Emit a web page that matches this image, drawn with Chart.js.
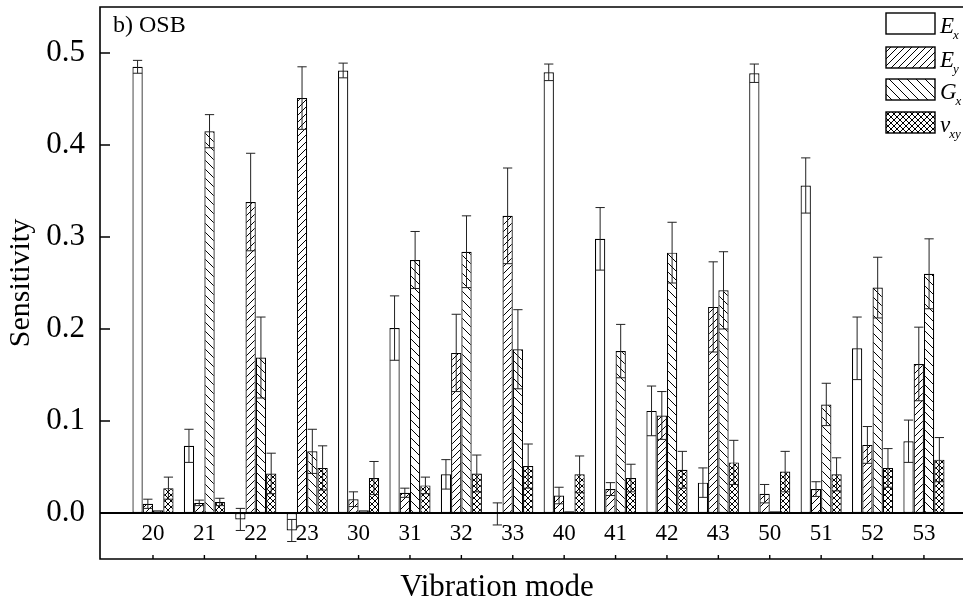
<!DOCTYPE html>
<html>
<head>
<meta charset="utf-8">
<title>Sensitivity by vibration mode</title>
<script src="https://cdn.jsdelivr.net/npm/chart.js@4/dist/chart.umd.min.js"></script>
<style>
  html, body { margin: 0; padding: 0; background: #fff; }
  #wrap { width: 963px; height: 605px; position: relative; }
</style>
</head>
<body>
<div id="wrap"><canvas id="chart" width="963" height="605"></canvas></div>
<script>
// Vibration modes on the horizontal axis
const categories = ['20', '21', '22', '23', '30', '31', '32', '33', '40', '41', '42', '43', '50', '51', '52', '53'];

// Sensitivity of each elastic constant (mean) and its error-bar half width
const exVals  = [0.485, 0.073, -0.007, -0.019, 0.481, 0.201, 0.042, -0.001, 0.479, 0.298, 0.111, 0.033, 0.478, 0.356, 0.179, 0.078];
const exErr   = [0.007, 0.018, 0.012, 0.012, 0.008, 0.035, 0.016, 0.012, 0.009, 0.034, 0.027, 0.016, 0.010, 0.030, 0.034, 0.023];
const eyVals  = [0.010, 0.011, 0.338, 0.451, 0.015, 0.022, 0.174, 0.323, 0.019, 0.026, 0.106, 0.224, 0.021, 0.026, 0.074, 0.162];
const eyErr   = [0.005, 0.003, 0.053, 0.034, 0.008, 0.005, 0.042, 0.052, 0.009, 0.007, 0.026, 0.049, 0.010, 0.008, 0.020, 0.040];
const gxVals  = [0.003, 0.415, 0.169, 0.067, 0.003, 0.275, 0.284, 0.178, 0.002, 0.176, 0.283, 0.242, 0.002, 0.118, 0.245, 0.260];
const gxErr   = [0.000, 0.018, 0.044, 0.024, 0.000, 0.031, 0.039, 0.043, 0.000, 0.029, 0.033, 0.042, 0.000, 0.023, 0.033, 0.038];
const vxyVals = [0.027, 0.012, 0.043, 0.049, 0.038, 0.030, 0.043, 0.051, 0.042, 0.038, 0.047, 0.055, 0.045, 0.042, 0.049, 0.058];
const vxyErr  = [0.012, 0.004, 0.022, 0.024, 0.018, 0.009, 0.020, 0.024, 0.020, 0.015, 0.020, 0.024, 0.022, 0.018, 0.021, 0.024];

// Legend entries: main symbol and subscript
const seriesSymbols = ['E', 'E', 'G', 'v'];
const seriesSubs    = ['x', 'y', 'x', 'xy'];

// Y tick values and axis titles
const yTicks = [0.0, 0.1, 0.2, 0.3, 0.4, 0.5];
const yTitle = 'Sensitivity';
const xTitle = 'Vibration mode';
const panelLabel = 'b) OSB';

const SERIF = '"Liberation Serif", "Times New Roman", serif';

// Hatch fills: '/' forward diagonal, '\' backward diagonal, both for cross
function hatch(step, kinds) {
  const c = document.createElement('canvas');
  c.width = step; c.height = step;
  const g = c.getContext('2d');
  g.fillStyle = '#fff';
  g.fillRect(0, 0, step, step);
  g.strokeStyle = '#000';
  g.lineWidth = 1;
  g.beginPath();
  for (const k of [-step, 0, step]) {
    if (kinds.includes('/')) { g.moveTo(k, step); g.lineTo(k + step, 0); }
    if (kinds.includes('\\')) { g.moveTo(k, 0); g.lineTo(k + step, step); }
  }
  g.stroke();
  return g.createPattern(c, 'repeat');
}

const fills = ['#ffffff', hatch(7, '/'), hatch(9, '\\'), hatch(6, '/\\')];
const allVals = [exVals, eyVals, gxVals, vxyVals];
const allErrs = [exErr, eyErr, gxErr, vxyErr];

const datasets = allVals.map((vals, s) => ({
  label: seriesSymbols[s] + seriesSubs[s],
  data: vals.map((v, i) => ({ x: i, y: v })),
  backgroundColor: fills[s],
  borderColor: '#000',
  borderWidth: 1.2,
  borderSkipped: false,
  categoryPercentage: 0.8,
  barPercentage: 1.0
}));

// Error bars, frame, zero line, ticks, category labels, legend and captions
const decorations = {
  id: 'decorations',
  afterDatasetsDraw(chart) {
    const ctx = chart.ctx;
    const xs = chart.scales.x, ys = chart.scales.y;
    const area = chart.chartArea;

    ctx.save();
    ctx.beginPath();
    ctx.rect(area.left, area.top, area.right - area.left, area.bottom - area.top);
    ctx.clip();
    // error bars
    ctx.strokeStyle = '#222';
    ctx.lineWidth = 1;
    chart.data.datasets.forEach((ds, s) => {
      const meta = chart.getDatasetMeta(s);
      meta.data.forEach((bar, i) => {
        const v = allVals[s][i], e = allErrs[s][i];
        if (!(e > 0)) return;
        const yt = ys.getPixelForValue(v + e);
        const yb = ys.getPixelForValue(v - e);
        const cw = bar.width * 0.45;
        ctx.beginPath();
        ctx.moveTo(bar.x, yb); ctx.lineTo(bar.x, yt);
        ctx.moveTo(bar.x - cw, yt); ctx.lineTo(bar.x + cw, yt);
        ctx.moveTo(bar.x - cw, yb); ctx.lineTo(bar.x + cw, yb);
        ctx.stroke();
      });
    });
    ctx.restore();

    ctx.save();
    ctx.strokeStyle = '#000';
    // zero line
    const y0 = ys.getPixelForValue(0);
    ctx.lineWidth = 2;
    ctx.beginPath();
    ctx.moveTo(area.left, y0); ctx.lineTo(area.right, y0);
    ctx.stroke();
    // frame
    ctx.lineWidth = 1.6;
    ctx.beginPath();
    ctx.moveTo(area.right + 2, area.top);
    ctx.lineTo(area.left, area.top);
    ctx.lineTo(area.left, area.bottom);
    ctx.lineTo(area.right + 2, area.bottom);
    ctx.stroke();
    // inward y ticks
    ctx.lineWidth = 1.4;
    ctx.beginPath();
    yTicks.forEach(t => {
      const y = ys.getPixelForValue(t);
      ctx.moveTo(area.left, y); ctx.lineTo(area.left + 10, y);
    });
    // inward x ticks on the bottom frame
    categories.forEach((c, i) => {
      const x = xs.getPixelForValue(i);
      ctx.moveTo(x, area.bottom); ctx.lineTo(x, area.bottom - 4);
    });
    ctx.stroke();

    // category labels between zero line and bottom frame
    ctx.fillStyle = '#000';
    ctx.font = '23px ' + SERIF;
    ctx.textAlign = 'center';
    ctx.textBaseline = 'middle';
    categories.forEach((c, i) => {
      ctx.fillText(c, xs.getPixelForValue(i), 534);
    });

    // x axis title
    ctx.font = '31px ' + SERIF;
    ctx.textBaseline = 'alphabetic';
    ctx.fillText(xTitle, 497, 596);

    // panel label
    ctx.textAlign = 'left';
    ctx.font = '24px ' + SERIF;
    ctx.fillText(panelLabel, 113, 32);

    // legend
    const boxX = 886, boxW = 49, boxH = 21;
    const rowsY = [13, 47, 79, 112];
    rowsY.forEach((ry, s) => {
      ctx.fillStyle = fills[s];
      ctx.fillRect(boxX, ry, boxW, boxH);
      ctx.lineWidth = 1.4;
      ctx.strokeStyle = '#000';
      ctx.strokeRect(boxX, ry, boxW, boxH);
      ctx.fillStyle = '#000';
      ctx.textAlign = 'left';
      ctx.font = 'italic 23px ' + SERIF;
      ctx.fillText(seriesSymbols[s], 940, ry + 20);
      const w = ctx.measureText(seriesSymbols[s]).width;
      ctx.font = 'italic 13px ' + SERIF;
      ctx.fillText(seriesSubs[s], 940 + w - 1, ry + 26);
    });
    ctx.restore();
  }
};

new Chart(document.getElementById('chart'), {
  type: 'bar',
  data: { datasets },
  plugins: [decorations],
  options: {
    responsive: false,
    animation: false,
    devicePixelRatio: 1,
    layout: { padding: { top: 7, right: 0, bottom: 46, left: 0 } },
    plugins: { legend: { display: false }, tooltip: { enabled: false } },
    scales: {
      x: {
        type: 'linear',
        display: false,
        offset: false,
        min: -1.031,
        max: 15.76
      },
      y: {
        min: -0.05,
        max: 0.55,
        afterFit(scale) {
          scale.width = 100;
          scale.paddingTop = 0;
          scale.paddingBottom = 0;
        },
        afterBuildTicks(scale) { scale.ticks = yTicks.map(v => ({ value: v })); },
        grid: { display: false, drawTicks: false },
        border: { display: false },
        ticks: {
          color: '#000',
          padding: 15,
          font: { family: SERIF, size: 31 },
          callback: v => Number(v).toFixed(1)
        },
        title: {
          display: true,
          text: yTitle,
          color: '#000',
          font: { family: SERIF, size: 30 },
          padding: { top: 3, bottom: 0 }
        }
      }
    }
  }
});
</script>
</body>
</html>
